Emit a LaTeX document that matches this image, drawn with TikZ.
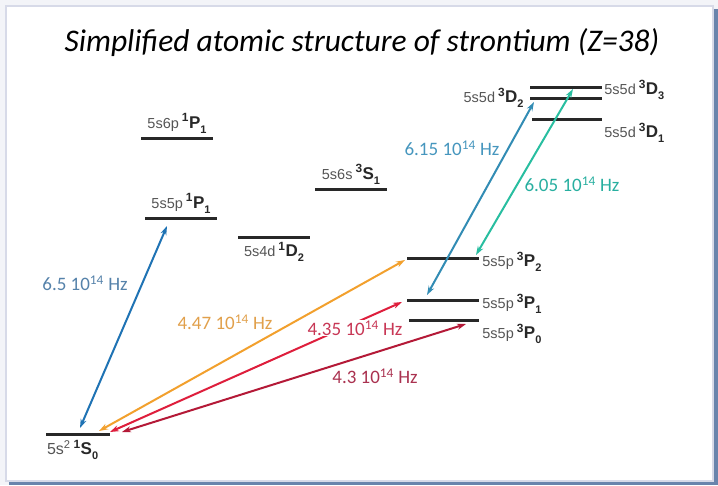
\documentclass[tikz,border=0pt]{standalone}
\usepackage{fontspec}
\setmainfont{Liberation Sans}
\newfontfamily\calib{Carlito}
\usetikzlibrary{arrows.meta,positioning,calc}

\definecolor{pagebg}{RGB}{243,244,248}
\definecolor{shadow}{RGB}{105,132,172}
\definecolor{framegray}{RGB}{215,218,232}
\definecolor{lvlgray}{RGB}{85,85,85}
\definecolor{barcol}{RGB}{40,40,40}
\definecolor{cblue}{RGB}{31,115,180}
\definecolor{cbluel}{RGB}{85,130,170}
\definecolor{corange}{RGB}{242,160,45}
\definecolor{corangel}{RGB}{225,160,75}
\definecolor{cred}{RGB}{222,30,60}
\definecolor{credl}{RGB}{200,55,85}
\definecolor{cdred}{RGB}{180,25,55}
\definecolor{cdredl}{RGB}{170,50,80}
\definecolor{csteel}{RGB}{50,140,180}
\definecolor{csteell}{RGB}{70,150,190}
\definecolor{cteal}{RGB}{40,190,160}
\definecolor{cteall}{RGB}{40,175,160}

% level label: config, multiplicity, term, J
\newcommand{\lvl}[4]{{\fontsize{14.5}{15}\selectfont\color{lvlgray}#1}\hspace{3pt}{\fontsize{17}{17}\selectfont\bfseries\textsuperscript{#2}#3\raisebox{-5pt}{\fontsize{11}{11}\selectfont #4}}}
\newcommand{\hz}[1]{#1 10\textsuperscript{14} Hz}

\begin{document}
\begin{tikzpicture}[x=1pt,y=-1pt,
  lvlbar/.style={fill=barcol, inner sep=0pt, minimum height=3pt, minimum width=#1},
  lvltext/.style={inner sep=1pt, text=barcol},
  freq/.style={font=\calib\fontsize{19}{19}\selectfont, inner sep=1pt},
  trans/.style={{Stealth[length=9pt,width=6pt]}-{Stealth[length=9pt,width=6pt]}, line width=2pt, draw=#1},
  titletext/.style={font=\calib\itshape\fontsize{31.5}{31.5}\selectfont, inner sep=0pt}]
\useasboundingbox (0,0) rectangle (718,485);
% frame
\fill[pagebg] (0,0) rectangle (718,485);
\fill[shadow] (9,9) rectangle (718,485);
\filldraw[fill=white, draw=framegray, line width=1.5pt] (6,6) rectangle (713,481);
% title
\node[titletext] (title) at (362,43) {Simplified atomic structure of strontium (Z=38)};
% levels
\node[lvlbar=64] (s0) at (78,434) {};
\node[lvlbar=72] (p6) at (177,138) {};
\node[lvlbar=72] (p5) at (181,218) {};
\node[lvlbar=72] (d4) at (274,237) {};
\node[lvlbar=72] (s6) at (351,189) {};
\node[lvlbar=72] (tp2) at (443,258) {};
\node[lvlbar=72] (tp1) at (443,300) {};
\node[lvlbar=70] (tp0) at (444,320) {};
\node[lvlbar=72] (td3) at (566,87) {};
\node[lvlbar=72] (td2) at (566,98) {};
\node[lvlbar=70] (td1) at (567,119) {};
% level labels
\node[lvltext, above=2pt of p6] (lp6) {\lvl{5s6p}{1}{P}{1}};
\node[lvltext, above=2pt of p5] (lp5) {\lvl{5s5p}{1}{P}{1}};
\node[lvltext, below=2pt of d4] (ld4) {\lvl{5s4d}{1}{D}{2}};
\node[lvltext, above=2pt of s6] (ls6) {\lvl{5s6s}{3}{S}{1}};
\node[lvltext, anchor=north west] (ls0) at ([yshift=-3pt]s0.south west) {{\fontsize{16}{16}\selectfont\color{lvlgray}5s\textsuperscript{2}}\hspace{3pt}{\fontsize{17}{17}\selectfont\bfseries\textsuperscript{1}S\raisebox{-5pt}{\fontsize{11}{11}\selectfont 0}}};
\node[lvltext, anchor=west] (ltp2) at ([xshift=2pt,yshift=-4pt]tp2.east) {\lvl{5s5p}{3}{P}{2}};
\node[lvltext, anchor=west] (ltp1) at ([xshift=2pt,yshift=-4pt]tp1.east) {\lvl{5s5p}{3}{P}{1}};
\node[lvltext, anchor=north west] (ltp0) at ([xshift=2pt,yshift=-1pt]tp0.south east) {\lvl{5s5p}{3}{P}{0}};
\node[lvltext, anchor=west] (ltd3) at ([xshift=1pt,yshift=-3pt]td3.east) {\lvl{5s5d}{3}{D}{3}};
\node[lvltext, anchor=east] (ltd2) at ([xshift=-5pt]td2.west) {\lvl{5s5d}{3}{D}{2}};
\node[lvltext, anchor=north west] (ltd1) at ([xshift=1pt,yshift=-1pt]td1.south east) {\lvl{5s5d}{3}{D}{1}};
% transition ends
\coordinate (bl0) at (80,428);   \coordinate (bl1) at (167,226);
\coordinate (or0) at (99,431);   \coordinate (or1) at (405,260);
\coordinate (rd0) at (110,432);  \coordinate (rd1) at (402,302);
\coordinate (dr0) at (122,432);  \coordinate (dr1) at (466,324);
\coordinate (st0) at (427,295);  \coordinate (st1) at (534,102);
\coordinate (te0) at (476,255);  \coordinate (te1) at (573,89);
% transitions
\draw[trans=cblue] (bl0) -- (bl1);
\draw[trans=corange] (or0) -- (or1);
\draw[trans=cred] (rd0) -- (rd1);
\draw[trans=cdred] (dr0) -- (dr1);
\draw[trans=csteel] (st0) -- (st1);
\draw[trans=cteal] (te0) -- (te1);
% frequencies
\node[freq, text=cbluel] (f65) at (85,283) {\hz{6.5}};
\node[freq, text=corangel] (f447) at (225,322) {\hz{4.47}};
\node[freq, text=credl, fill=white] (f435) at (355,328) {\hz{4.35}};
\node[freq, text=cdredl] (f43) at (375,376) {\hz{4.3}};
\node[freq, text=csteell] (f615) at (452,148) {\hz{6.15}};
\node[freq, text=cteall] (f605) at (572,184) {\hz{6.05}};
\end{tikzpicture}
\end{document}
